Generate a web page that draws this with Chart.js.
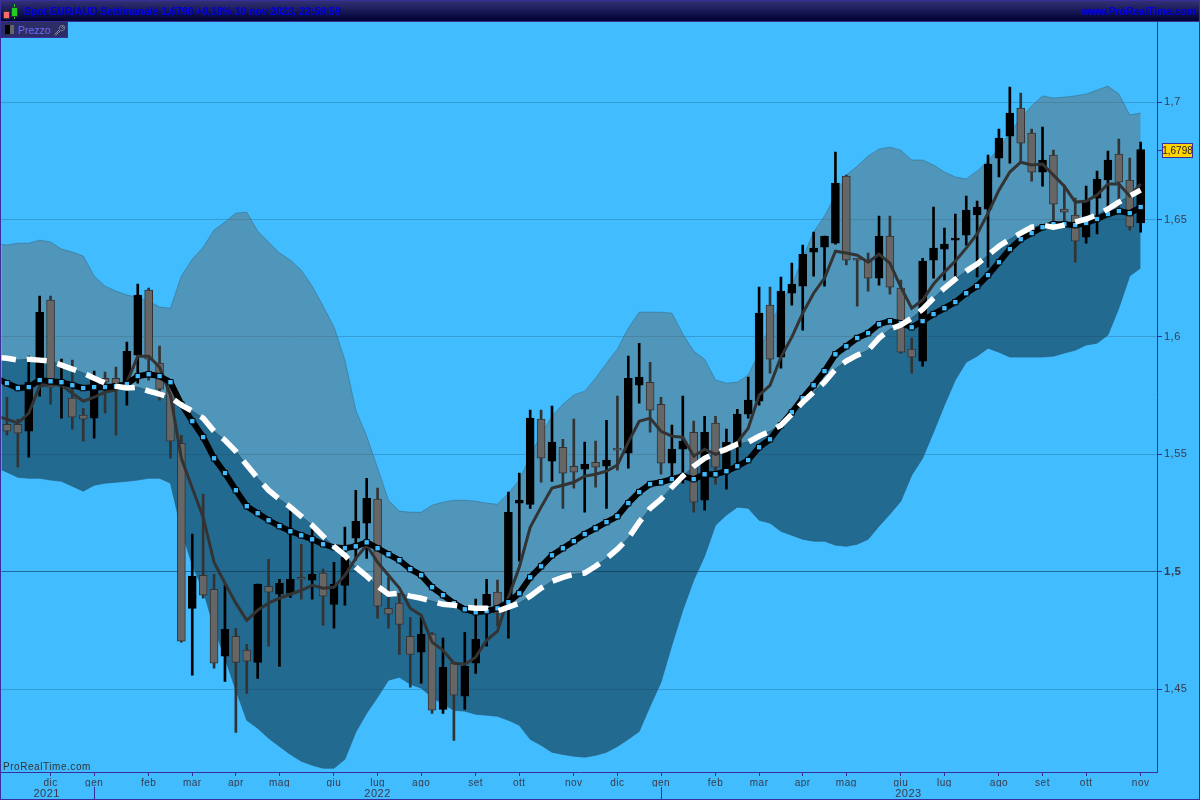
<!DOCTYPE html>
<html lang="it">
<head>
<meta charset="UTF-8">
<title>Spot EUR/AUD Settimanale</title>
<script src="https://cdn.jsdelivr.net/npm/chart.js@4/dist/chart.umd.min.js"></script>
<style>
    html, body { margin: 0; padding: 0; background: #40bcff; }
    #wrap { position: relative; width: 1200px; height: 800px; overflow: hidden; background: #40bcff; font-family: 'Liberation Sans', sans-serif; }
    #wrap canvas { position: absolute; left: 0; top: 0; }
    #titlebar { position: absolute; left: 0; top: 0; width: 1200px; height: 21px; background: linear-gradient(#33337a, #000033); border-bottom: 1px solid #3a2d9c; }
    #titletext { position: absolute; left: 24px; top: 6px; font-size: 10.4px; font-weight: bold; color: #0000dd; white-space: nowrap; }
    #siteurl { position: absolute; right: 4px; top: 6px; font-size: 10.4px; font-weight: bold; color: #0000dd; white-space: nowrap; }
    .ic { position: absolute; border: 1px solid #333; }
    .wk { position: absolute; width: 1px; background: #333; }
    #legend { position: absolute; left: 1px; top: 22px; width: 66px; height: 15px; background: #2c2c66; border-right: 1px solid #3a2d9c; border-bottom: 1px solid #3a2d9c; }
    #legendtext { position: absolute; left: 17px; top: 2px; font-size: 10.5px; color: #6a6af0; }
    #watermark { position: absolute; left: 3px; top: 761px; font-size: 10px; color: #333; letter-spacing: 0.55px; }
    #frame { position: absolute; left: 0; top: 0; width: 1198px; height: 798px; border: 1px solid #3a2d9c; pointer-events: none; }
</style>
</head>
<body>
<div id="wrap">
    <canvas id="chart" width="1200" height="800"></canvas>
    <div id="titlebar">
        <span class="wk" style="left:6px;top:9px;height:11px"></span>
        <span class="ic" style="left:3px;top:11px;width:5px;height:6px;background:#ff6b6b"></span>
        <span class="wk" style="left:14px;top:4px;height:15px;background:#22cc22"></span>
        <span class="ic" style="left:11px;top:7px;width:5px;height:8px;background:#22cc22"></span>
        <span id="titletext">Spot EUR/AUD Settimanale 1,6798 +0,18% 10 nov 2023, 22:59:59</span>
        <span id="siteurl">www.ProRealTime.com</span>
    </div>
    <div id="legend">
        <span style="position:absolute;left:4px;top:3px;width:5px;height:9px;background:#000"></span>
        <span style="position:absolute;left:9px;top:3px;width:4px;height:9px;background:#666"></span>
        <span id="legendtext">Prezzo</span>
        <svg style="position:absolute;left:52px;top:2px" width="13" height="12" viewBox="0 0 13 12">
            <path d="M1.5 10.5 L6.5 5.5 M6.5 5.5 C5.5 3 7.5 1 10.5 1.5 L8.5 3.5 L9.5 4.5 L11.5 2.5 C12 5.5 10 7.5 7.5 6.5 L2.5 11.5" fill="none" stroke="#8a8a9a" stroke-width="1"/>
        </svg>
    </div>
    <div id="watermark">ProRealTime.com</div>
    <div id="frame"></div>
</div>

<script>
    // weekly candles, one entry per bar
    const opens = [1.5628,1.5628,1.5598,1.5803,1.6157,1.5790,1.5739,1.5667,1.5654,1.5824,1.5824,1.5803,1.5922,1.6199,1.5888,1.5786,1.5547,1.4844,1.4985,1.4925,1.4640,1.4725,1.4666,1.4614,1.4938,1.4904,1.4908,1.4976,1.4964,1.4994,1.4861,1.4942,1.5143,1.5207,1.5309,1.4844,1.4866,1.4725,1.4657,1.4734,1.4414,1.4610,1.4470,1.4610,1.4853,1.4913,1.4866,1.5292,1.5287,1.5650,1.5471,1.5530,1.5449,1.5437,1.5466,1.5449,1.5526,1.5505,1.5794,1.5807,1.5713,1.5462,1.5522,1.5594,1.5305,1.5633,1.5420,1.5530,1.5671,1.5726,1.6135,1.5914,1.6186,1.6216,1.6361,1.6382,1.6399,1.6685,1.6335,1.6323,1.6250,1.6429,1.6208,1.5948,1.5897,1.6327,1.6374,1.6412,1.6433,1.6519,1.6544,1.6761,1.6855,1.6974,1.6868,1.6702,1.6774,1.6544,1.6519,1.6425,1.6591,1.6668,1.6778,1.6668,1.6485];
    const highs = [1.5743,1.5650,1.5918,1.6174,1.6174,1.5905,1.5901,1.5696,1.5854,1.5850,1.5871,1.5978,1.6225,1.6208,1.5961,1.5790,1.5581,1.5160,1.5330,1.4989,1.4942,1.4759,1.4691,1.4947,1.5053,1.4968,1.5258,1.5117,1.5181,1.5011,1.5040,1.5190,1.5347,1.5398,1.5356,1.4976,1.4908,1.4806,1.4806,1.4742,1.4717,1.4614,1.4742,1.4883,1.4968,1.4964,1.5339,1.5420,1.5688,1.5688,1.5705,1.5564,1.5650,1.5552,1.5556,1.5645,1.5748,1.5918,1.5973,1.5892,1.5743,1.5624,1.5748,1.5641,1.5662,1.5662,1.5607,1.5692,1.5829,1.6212,1.6212,1.6255,1.6314,1.6391,1.6446,1.6429,1.6787,1.6689,1.6335,1.6357,1.6514,1.6514,1.6242,1.5995,1.6335,1.6553,1.6463,1.6523,1.6600,1.6578,1.6774,1.6885,1.7064,1.7038,1.6885,1.6894,1.6796,1.6646,1.6591,1.6642,1.6706,1.6791,1.6842,1.6761,1.6830];
    const lows = [1.5581,1.5445,1.5488,1.5748,1.5713,1.5654,1.5607,1.5556,1.5569,1.5675,1.5581,1.5709,1.5803,1.5816,1.5731,1.5483,1.4700,1.4559,1.4887,1.4589,1.4533,1.4316,1.4482,1.4546,1.4683,1.4597,1.4891,1.4883,1.4883,1.4772,1.4759,1.4857,1.5049,1.5057,1.4802,1.4759,1.4648,1.4508,1.4525,1.4397,1.4397,1.4282,1.4414,1.4567,1.4683,1.4768,1.4717,1.5045,1.5270,1.5381,1.5385,1.5270,1.5356,1.5253,1.5360,1.5270,1.5432,1.5441,1.5718,1.5594,1.5415,1.5390,1.5377,1.5253,1.5262,1.5373,1.5352,1.5462,1.5654,1.5709,1.5846,1.5867,1.6135,1.6029,1.6259,1.6216,1.6395,1.6306,1.6131,1.6195,1.6220,1.6182,1.5931,1.5846,1.5875,1.6250,1.6242,1.6255,1.6391,1.6255,1.6297,1.6681,1.6740,1.6740,1.6663,1.6642,1.6489,1.6489,1.6318,1.6399,1.6438,1.6531,1.6531,1.6455,1.6446];
    const closes = [1.5598,1.5590,1.5807,1.6105,1.5786,1.5811,1.5658,1.5650,1.5816,1.5807,1.5782,1.5939,1.6178,1.5905,1.5777,1.5556,1.4704,1.4981,1.4900,1.4610,1.4755,1.4614,1.4619,1.4947,1.4913,1.4951,1.4968,1.4968,1.4989,1.4896,1.4947,1.5062,1.5215,1.5313,1.4853,1.4819,1.4776,1.4648,1.4734,1.4410,1.4593,1.4474,1.4597,1.4712,1.4904,1.4823,1.5253,1.5305,1.5654,1.5483,1.5552,1.5420,1.5424,1.5458,1.5445,1.5475,1.5518,1.5824,1.5829,1.5688,1.5462,1.5522,1.5556,1.5296,1.5594,1.5445,1.5552,1.5671,1.5731,1.6101,1.5905,1.6195,1.6225,1.6352,1.6378,1.6429,1.6655,1.6327,1.6327,1.6250,1.6429,1.6212,1.5935,1.5914,1.6323,1.6378,1.6395,1.6421,1.6540,1.6553,1.6736,1.6847,1.6953,1.6825,1.6702,1.6753,1.6565,1.6531,1.6408,1.6583,1.6672,1.6753,1.6659,1.6468,1.6798];

    // indicators start one bar earlier than the candles, off the left edge
    const upperBand = [1.6395,1.6391,1.6399,1.6399,1.6412,1.6404,1.6374,1.6361,1.6344,1.6259,1.6216,1.6195,1.6178,1.6169,1.6152,1.6127,1.6122,1.6259,1.6331,1.6382,1.6455,1.6489,1.6527,1.6531,1.6450,1.6404,1.6357,1.6327,1.6284,1.6216,1.6131,1.6042,1.5901,1.5688,1.5577,1.5441,1.5304,1.5258,1.5253,1.5253,1.5283,1.5296,1.5304,1.5304,1.5300,1.5292,1.5287,1.5334,1.5390,1.5492,1.5586,1.5662,1.5713,1.5752,1.5769,1.5824,1.5888,1.5948,1.6037,1.6105,1.6105,1.6105,1.6101,1.6012,1.5939,1.5905,1.5816,1.5803,1.5807,1.5837,1.5935,1.6050,1.6144,1.6220,1.6335,1.6446,1.6514,1.6604,1.6689,1.6727,1.6770,1.6800,1.6808,1.6795,1.6753,1.6753,1.6732,1.6702,1.6681,1.6672,1.6706,1.6749,1.6804,1.6868,1.6932,1.6983,1.7026,1.7017,1.7021,1.7026,1.7034,1.7051,1.7068,1.7034,1.6945,1.6953];
    const lowerBand = [1.5445,1.5424,1.5402,1.5398,1.5398,1.5390,1.5385,1.5364,1.5343,1.5368,1.5377,1.5381,1.5385,1.5390,1.5398,1.5398,1.5377,1.5177,1.5028,1.4921,1.4759,1.4631,1.4495,1.4367,1.4333,1.4291,1.4256,1.4222,1.4193,1.4176,1.4163,1.4163,1.4201,1.4316,1.4397,1.4465,1.4538,1.4550,1.4521,1.4504,1.4465,1.4436,1.4410,1.4406,1.4393,1.4389,1.4384,1.4367,1.4346,1.4286,1.4261,1.4231,1.4222,1.4214,1.4210,1.4218,1.4231,1.4256,1.4286,1.4320,1.4427,1.4529,1.4687,1.4836,1.4964,1.5066,1.5198,1.5241,1.5275,1.5270,1.5219,1.5207,1.5172,1.5155,1.5138,1.5130,1.5130,1.5113,1.5108,1.5117,1.5138,1.5194,1.5245,1.5300,1.5411,1.5483,1.5594,1.5709,1.5816,1.5892,1.5918,1.5952,1.5935,1.5914,1.5914,1.5914,1.5914,1.5918,1.5931,1.5943,1.5965,1.5973,1.6008,1.6122,1.6259,1.6293];
    const midLine = [1.5913,1.5909,1.5901,1.5905,1.5901,1.5897,1.5880,1.5863,1.5846,1.5824,1.5803,1.5790,1.5782,1.5786,1.5769,1.5756,1.5743,1.5709,1.5684,1.5654,1.5598,1.5560,1.5513,1.5454,1.5398,1.5347,1.5309,1.5275,1.5236,1.5198,1.5151,1.5108,1.5070,1.5019,1.4981,1.4938,1.4904,1.4908,1.4896,1.4887,1.4874,1.4861,1.4857,1.4849,1.4844,1.4844,1.4832,1.4849,1.4866,1.4896,1.4930,1.4959,1.4976,1.4989,1.4994,1.5023,1.5057,1.5096,1.5143,1.5211,1.5270,1.5309,1.5360,1.5407,1.5449,1.5483,1.5505,1.5522,1.5543,1.5552,1.5577,1.5598,1.5624,1.5671,1.5722,1.5765,1.5807,1.5863,1.5897,1.5922,1.5943,1.5995,1.6033,1.6050,1.6080,1.6118,1.6165,1.6208,1.6246,1.6280,1.6310,1.6348,1.6386,1.6416,1.6442,1.6467,1.6476,1.6467,1.6476,1.6489,1.6502,1.6519,1.6544,1.6574,1.6600,1.6625];
    const slowAvg = [1.5824,1.5803,1.5782,1.5786,1.5816,1.5811,1.5807,1.5794,1.5782,1.5786,1.5786,1.5790,1.5799,1.5833,1.5841,1.5833,1.5807,1.5713,1.5641,1.5573,1.5483,1.5420,1.5347,1.5279,1.5249,1.5219,1.5194,1.5172,1.5155,1.5138,1.5117,1.5104,1.5100,1.5108,1.5125,1.5100,1.5074,1.5049,1.5011,1.4985,1.4934,1.4900,1.4866,1.4840,1.4827,1.4832,1.4844,1.4870,1.4908,1.4976,1.5023,1.5070,1.5100,1.5130,1.5160,1.5185,1.5211,1.5236,1.5292,1.5339,1.5373,1.5381,1.5394,1.5407,1.5394,1.5415,1.5415,1.5428,1.5449,1.5475,1.5530,1.5564,1.5624,1.5679,1.5739,1.5794,1.5854,1.5926,1.5960,1.5995,1.6016,1.6054,1.6067,1.6058,1.6041,1.6067,1.6097,1.6122,1.6148,1.6186,1.6216,1.6263,1.6318,1.6374,1.6416,1.6442,1.6467,1.6480,1.6480,1.6476,1.6485,1.6502,1.6523,1.6536,1.6527,1.6553];
    const fastAvg = [1.5662,1.5650,1.5633,1.5675,1.5790,1.5799,1.5794,1.5760,1.5726,1.5743,1.5765,1.5773,1.5807,1.5918,1.5918,1.5871,1.5752,1.5483,1.5356,1.5232,1.5040,1.4951,1.4866,1.4793,1.4836,1.4866,1.4887,1.4904,1.4921,1.4942,1.4930,1.4934,1.4985,1.5057,1.5113,1.5040,1.4985,1.4930,1.4844,1.4815,1.4700,1.4665,1.4610,1.4606,1.4636,1.4708,1.4747,1.4891,1.5019,1.5189,1.5275,1.5356,1.5368,1.5381,1.5407,1.5415,1.5428,1.5454,1.5552,1.5641,1.5654,1.5598,1.5577,1.5573,1.5492,1.5522,1.5500,1.5513,1.5552,1.5611,1.5752,1.5794,1.5914,1.5999,1.6101,1.6186,1.6250,1.6365,1.6357,1.6348,1.6318,1.6352,1.6314,1.6212,1.6122,1.6157,1.6225,1.6276,1.6323,1.6378,1.6438,1.6527,1.6625,1.6702,1.6744,1.6732,1.6736,1.6689,1.6642,1.6574,1.6578,1.6604,1.6651,1.6651,1.6600,1.6651];

    // axis ticks
    const yTicks = [1.45, 1.5, 1.55, 1.6, 1.65, 1.7];
    const yTickLabels = ['1,45', '1,5', '1,55', '1,6', '1,65', '1,7'];
    const monthTicks = [4, 8, 13, 17, 21, 25, 30, 34, 38, 43, 47, 52, 56, 60, 65, 69, 73, 77, 82, 86, 91, 95, 99, 104];
    const monthLabels = ['dic', 'gen', 'feb', 'mar', 'apr', 'mag', 'giu', 'lug', 'ago', 'set', 'ott', 'nov', 'dic', 'gen', 'feb', 'mar', 'apr', 'mag', 'giu', 'lug', 'ago', 'set', 'ott', 'nov'];
    const yearTicks = [3.65, 8, 34, 60, 82.7];
    const yearLabels = ['2021', '', '2022', '', '2023'];
    const lastPrice = 1.6798;
    const lastPriceLabel = '1,6798';

    const bars = closes.map((_, i) => i);
    const toBars = (a, b) => bars.map(i => ({ x: i, y: [a[i], b[i]] }));
    const toLine = arr => arr.map((v, i) => ({ x: i - 1, y: v }));
    const isUp = bars.map(i => closes[i] >= opens[i]);

    const axisColor = '#3a2d9c';
    const textColor = '#3a3a4a';

    // draws the yellow last price box on the right axis
    const priceTag = {
        id: 'priceTag',
        beforeDraw(chart) {
            chart.ctx.letterSpacing = '0.5px';
        },
        afterDraw(chart) {
            const ctx = chart.ctx;
            const y = chart.scales.y.getPixelForValue(lastPrice);
            ctx.save();
            ctx.strokeStyle = axisColor;
            ctx.beginPath();
            ctx.moveTo(1157, Math.round(y) + 0.5);
            ctx.lineTo(1162, Math.round(y) + 0.5);
            ctx.stroke();
            ctx.fillStyle = '#ffd400';
            ctx.fillRect(1162.5, Math.round(y) - 6.5, 30, 14);
            ctx.strokeRect(1162.5, Math.round(y) - 6.5, 30, 14);
            ctx.letterSpacing = '0px';
            ctx.fillStyle = '#222';
            ctx.font = '10px "Liberation Sans"';
            ctx.textBaseline = 'middle';
            ctx.textAlign = 'center';
            ctx.fillText(lastPriceLabel, 1177.5, Math.round(y) + 1);
            ctx.restore();
        }
    };

    new Chart(document.getElementById('chart'), {
        data: {
            datasets: [
                { type: 'line', data: toLine(upperBand), fill: 2, backgroundColor: 'rgba(99,105,102,0.45)', borderColor: 'rgba(60,110,140,0.6)', borderWidth: 1, pointRadius: 0, order: 9 },
                { type: 'line', data: toLine(lowerBand), fill: 2, backgroundColor: 'rgba(16,52,70,0.6)', borderColor: 'rgba(40,90,120,0.6)', borderWidth: 1, pointRadius: 0, order: 9 },
                { type: 'line', data: toLine(midLine), borderColor: '#2c5a72', borderWidth: 1, pointRadius: 0, order: 8 },
                { type: 'bar', data: toBars(lows, highs), barThickness: 2, grouped: false, backgroundColor: bars.map(i => isUp[i] ? '#000' : '#333'), order: 7 },
                { type: 'bar', data: toBars(opens, closes), barThickness: 8, grouped: false, borderSkipped: false, borderWidth: 1, backgroundColor: bars.map(i => isUp[i] ? '#000' : '#666'), borderColor: bars.map(i => isUp[i] ? '#000' : '#333'), order: 6 },
                { type: 'line', data: toLine(fastAvg), borderColor: '#333', borderWidth: 3, pointRadius: 0, order: 5 },
                { type: 'line', data: toLine(slowAvg), borderColor: '#000', borderWidth: 6, pointStyle: 'rect', pointRadius: 3.8, pointBorderWidth: 1, pointBorderColor: '#000', pointBackgroundColor: '#40bcff', order: 4 },
                { type: 'line', data: toLine(midLine), borderColor: '#fff', borderWidth: 5.5, borderDash: [20, 11], pointRadius: 0, order: 3 }
            ]
        },
        options: {
            responsive: false,
            animation: false,
            layout: { autoPadding: false, padding: { left: 1.5, top: 22, right: 0, bottom: 0 } },
            plugins: { legend: { display: false }, tooltip: { enabled: false } },
            scales: {
                x: {
                    type: 'linear',
                    position: 'bottom',
                    min: -0.5,
                    max: 105.5,
                    offset: false,
                    afterFit: s => { s.height = 15; s.paddingLeft = 0; s.paddingRight = 0; },
                    afterBuildTicks: s => { s.ticks = monthTicks.map(v => ({ value: v })); },
                    border: { color: axisColor },
                    grid: { offset: false, drawOnChartArea: false, tickLength: 4, tickColor: axisColor },
                    ticks: {
                        autoSkip: false,
                        maxRotation: 0,
                        padding: 1,
                        color: textColor,
                        font: { family: 'Liberation Sans', size: 10 },
                        callback: (v, i) => monthLabels[i]
                    }
                },
                x2: {
                    type: 'linear',
                    position: 'bottom',
                    min: -0.5,
                    max: 105.5,
                    offset: false,
                    afterFit: s => { s.height = 13; s.paddingLeft = 0; s.paddingRight = 0; },
                    afterBuildTicks: s => { s.ticks = yearTicks.map(v => ({ value: v })); },
                    border: { display: false },
                    grid: {
                        offset: false,
                        drawOnChartArea: false,
                        tickLength: 12,
                        tickColor: ctx => yearLabels[ctx.index] === '' ? axisColor : 'rgba(0,0,0,0)'
                    },
                    ticks: {
                        autoSkip: false,
                        maxRotation: 0,
                        padding: -12,
                        color: textColor,
                        font: { family: 'Liberation Sans', size: 11 },
                        callback: (v, i) => yearLabels[i]
                    }
                },
                y: {
                    type: 'linear',
                    position: 'right',
                    min: 1.4147,
                    max: 1.7341,
                    afterFit: s => { s.width = 43; },
                    afterBuildTicks: s => { s.ticks = yTicks.map(v => ({ value: v })); },
                    border: { color: axisColor },
                    grid: {
                        tickLength: 5,
                        tickColor: axisColor,
                        color: ctx => ctx.tick && ctx.tick.value === 1.5 ? 'rgba(0,40,70,0.55)' : 'rgba(20,60,90,0.25)'
                    },
                    ticks: {
                        autoSkip: false,
                        padding: 2,
                        color: textColor,
                        font: ctx => ctx.tick && ctx.tick.value === 1.5
                            ? { family: 'Liberation Sans', size: 11.5, weight: 'bold' }
                            : { family: 'Liberation Sans', size: 11 },
                        callback: (v, i) => yTickLabels[i]
                    }
                }
            }
        },
        plugins: [priceTag]
    });
</script>
</body>
</html>
